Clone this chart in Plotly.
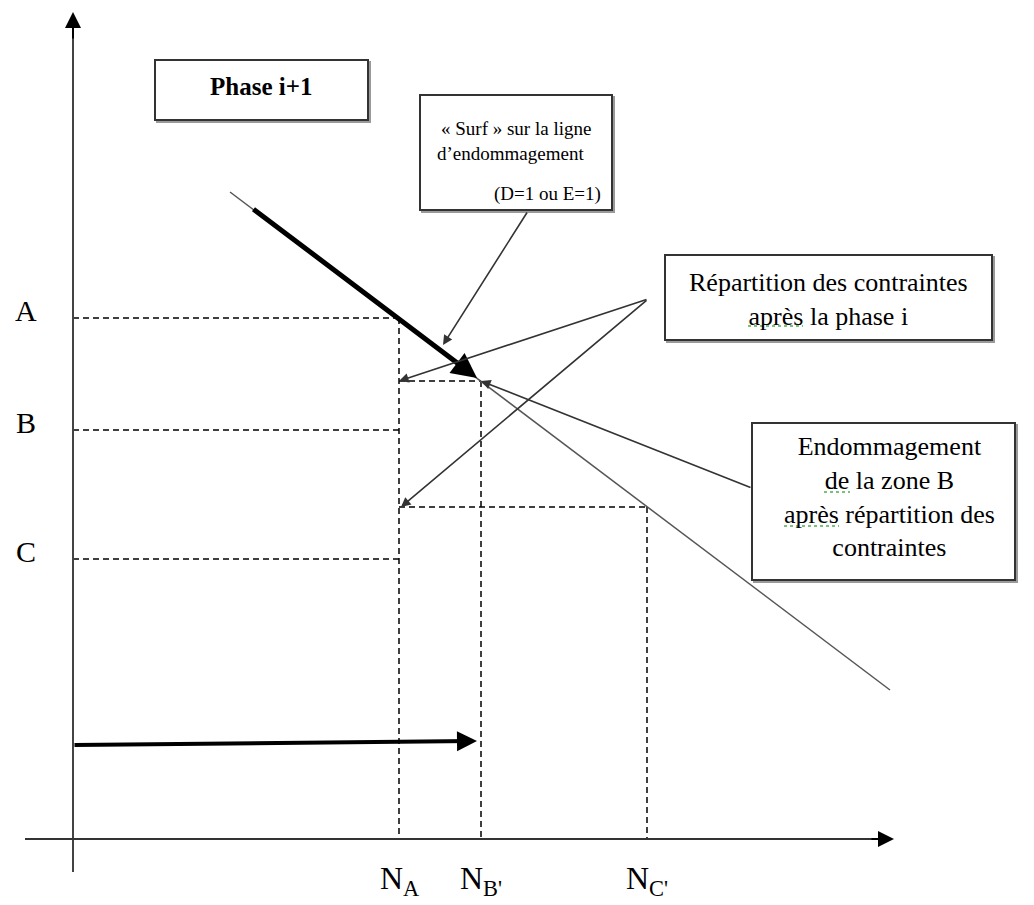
import plotly.graph_objects as go

# Schéma : repère en pixels de la page (x vers la droite, y vers le bas)
W, H = 1034, 905
PAGE_MARGIN = 8  # marge par défaut du <body> HTML

# niveaux de contrainte (axe vertical)
level_names = ["A", "B", "C"]
level_y = [318, 430, 559]

# niveaux après répartition des contraintes (B', C')
redis_y = [381, 507]

# nombres de cycles sur l'axe horizontal
n_names = ["N<sub>A</sub>", "N<sub>B'</sub>", "N<sub>C'</sub>"]
n_x = [399, 481, 647]

# ligne d'endommagement (D=1 ou E=1)
damage_x = [230, 890]
damage_y = [192, 690]

# portion "surfée" (trait épais)
surf_x = [252, 477]
surf_y = [208, 378]

# flèche horizontale du bas
cycles_x = [73, 477]
cycles_y = [745, 741]

# axes
y_axis_x = 73
x_axis_y = 839

FONT = "Liberation Serif"

fig = go.Figure()


def seg(xs, ys, width=1.5, color="black", dash=None):
    fig.add_trace(go.Scatter(
        x=xs, y=ys, mode="lines", hoverinfo="skip", showlegend=False,
        line=dict(color=color, width=width, dash=dash),
    ))


def arrow(x0, y0, x1, y1, width=1.6, size=1.2, color="#333"):
    fig.add_annotation(
        x=x1, y=y1, ax=x0, ay=y0, xref="x", yref="y", axref="x", ayref="y",
        showarrow=True, arrowhead=2, arrowsize=size, arrowwidth=width,
        arrowcolor=color, text="",
    )


def box(x0, y0, x1, y1):
    fig.add_shape(type="rect", x0=x0 + 2, y0=y0 + 2, x1=x1 + 2, y1=y1 + 2,
                  line=dict(color="#9a9a9a", width=2), fillcolor="#9a9a9a", layer="below")
    fig.add_shape(type="rect", x0=x0, y0=y0, x1=x1, y1=y1,
                  line=dict(color="#333", width=2), fillcolor="white", layer="below")


def text(x, y, s, size=24, bold=False):
    if bold:
        s = "<b>" + s + "</b>"
    fig.add_annotation(x=x, y=y, xref="x", yref="y", text=s, showarrow=False,
                       font=dict(family=FONT, size=size, color="black"),
                       xanchor="center", yanchor="middle")


def squiggle(x0, x1, y):
    # soulignement du correcteur orthographique
    seg([x0, x1], [y, y], width=1.5, color="#4caf50", dash="dot")


dash = "6px,4px"

# pointillés horizontaux A, B, C jusqu'à N_A
for yv in level_y:
    seg([y_axis_x, n_x[0]], [yv, yv], dash=dash)
# pointillés verticaux
seg([n_x[0], n_x[0]], [level_y[0], x_axis_y], dash=dash)
seg([n_x[1], n_x[1]], [redis_y[0], x_axis_y], dash=dash)
seg([n_x[2], n_x[2]], [redis_y[1], x_axis_y], dash=dash)
# niveaux après répartition
seg([n_x[0], n_x[1]], [redis_y[0], redis_y[0]], dash=dash)
seg([n_x[0], n_x[2]], [redis_y[1], redis_y[1]], dash=dash)

# ligne d'endommagement
seg(damage_x, damage_y, width=1.5, color="#555")

# axes
seg([y_axis_x, y_axis_x], [872, 24], width=2, color="#444")
arrow(y_axis_x, 40, y_axis_x, 12, width=2, size=1.6, color="black")
seg([25, 880], [x_axis_y, x_axis_y], width=2, color="#333")
arrow(870, x_axis_y, 894, x_axis_y, width=2, size=1.6, color="black")

# trait épais "surf"
arrow(surf_x[0], surf_y[0], surf_x[1], surf_y[1], width=5, size=1.0, color="black")
# flèche horizontale épaisse
arrow(cycles_x[0], cycles_y[0], cycles_x[1], cycles_y[1], width=4, size=1.0, color="black")

# boîtes de texte
box(155, 60, 368, 120)
text(261, 86, "Phase i+1", size=25, bold=True)

box(420, 95, 612, 210)
text(516, 128, "« Surf » sur la ligne", size=19)
text(510, 153, "d’endommagement", size=19)
text(547, 194, "(D=1 ou E=1)", size=19)

box(665, 255, 992, 340)
text(828, 299, "Répartition des contraintes<br>après la phase i", size=26)
squiggle(748, 803, 326)

box(752, 423, 1015, 580)
text(889, 497, "Endommagement<br>de la zone B<br>après répartition des<br>contraintes", size=26)
squiggle(824, 850, 492)
squiggle(784, 839, 526)

# flèches de liaison
arrow(528, 211, 443, 345)
arrow(648, 299, n_x[0], redis_y[0])
arrow(648, 299, n_x[0] + 2, redis_y[1])
arrow(752, 488, n_x[1], redis_y[0])

# étiquettes des niveaux
for name, yv in zip(level_names, level_y):
    text(26, yv - 8, name, size=30)
# étiquettes des cycles
for name, xv in zip(n_names, n_x):
    fig.add_annotation(x=xv, y=880, xref="x", yref="y", text=name, showarrow=False,
                       font=dict(family=FONT, size=32, color="black"),
                       xanchor="center", yanchor="middle")

fig.update_layout(
    width=W, height=H, margin=dict(l=0, r=0, t=0, b=0),
    paper_bgcolor="white", plot_bgcolor="white",
    xaxis=dict(range=[PAGE_MARGIN, W + PAGE_MARGIN], visible=False, fixedrange=True),
    yaxis=dict(range=[H + PAGE_MARGIN, PAGE_MARGIN], visible=False, fixedrange=True),
)

fig.write_html("out.html")
